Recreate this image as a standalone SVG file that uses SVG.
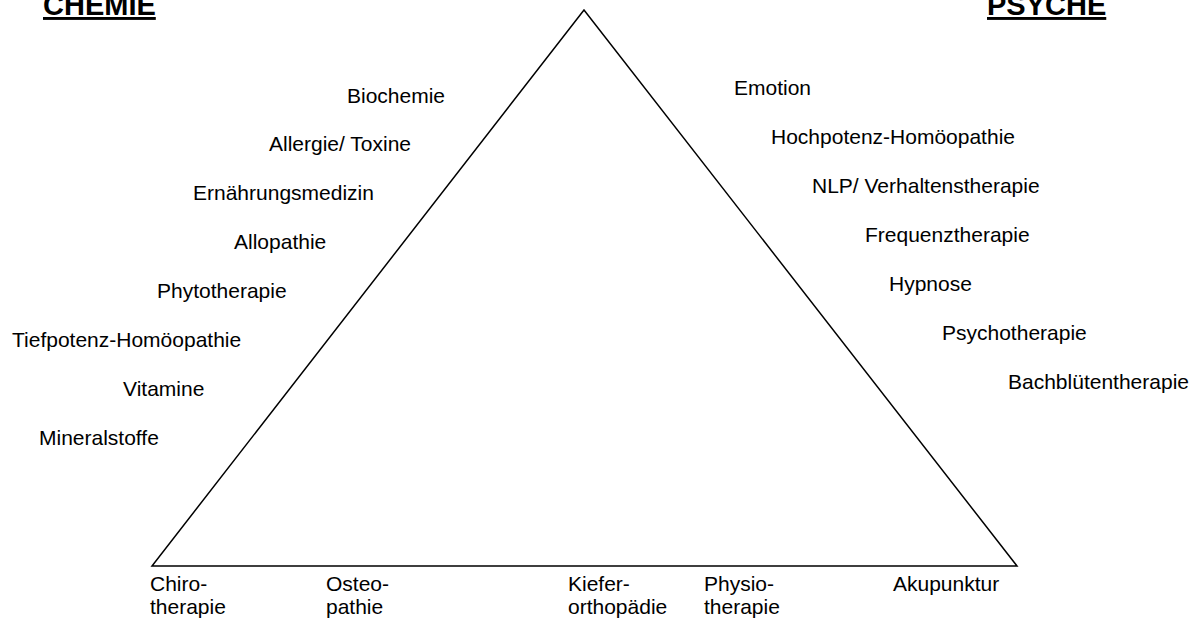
<svg xmlns="http://www.w3.org/2000/svg" width="1194" height="620" viewBox="0 0 1194 620">
<style>
text{font-family:"Liberation Sans",Arial,sans-serif;font-size:21px;fill:#000}
.h{font-weight:bold;font-size:29px;text-decoration:underline}
.tri{fill:none;stroke:#000;stroke-width:1.5}
</style>
<rect width="1194" height="620" fill="#fff"/>
<g id="connectors">
<polygon class="tri" points="584,10 152,566 1017,566"/>
</g>
<g id="chemie"><text class="h" x="43" y="15">CHEMIE</text></g>
<g id="psyche"><text class="h" x="987" y="15">PSYCHE</text></g>
<g id="left-labels">
<text x="347" y="103">Biochemie</text>
<text x="269" y="151">Allergie/ Toxine</text>
<text x="193" y="200">Ernährungsmedizin</text>
<text x="234" y="249">Allopathie</text>
<text x="157" y="298">Phytotherapie</text>
<text x="12" y="347">Tiefpotenz-Homöopathie</text>
<text x="123" y="396">Vitamine</text>
<text x="39" y="445">Mineralstoffe</text>
</g>
<g id="right-labels">
<text x="734" y="95">Emotion</text>
<text x="771" y="144">Hochpotenz-Homöopathie</text>
<text x="812" y="193">NLP/ Verhaltenstherapie</text>
<text x="865" y="242">Frequenztherapie</text>
<text x="889" y="291">Hypnose</text>
<text x="942" y="340">Psychotherapie</text>
<text x="1008" y="389">Bachblütentherapie</text>
</g>
<g id="bottom-labels">
<text x="150" y="591">Chiro-<tspan x="150" y="614">therapie</tspan></text>
<text x="326" y="591">Osteo-<tspan x="326" y="614">pathie</tspan></text>
<text x="568" y="591">Kiefer-<tspan x="568" y="614">orthopädie</tspan></text>
<text x="704" y="591">Physio-<tspan x="704" y="614">therapie</tspan></text>
<text x="893" y="591">Akupunktur</text>
</g>
</svg>
